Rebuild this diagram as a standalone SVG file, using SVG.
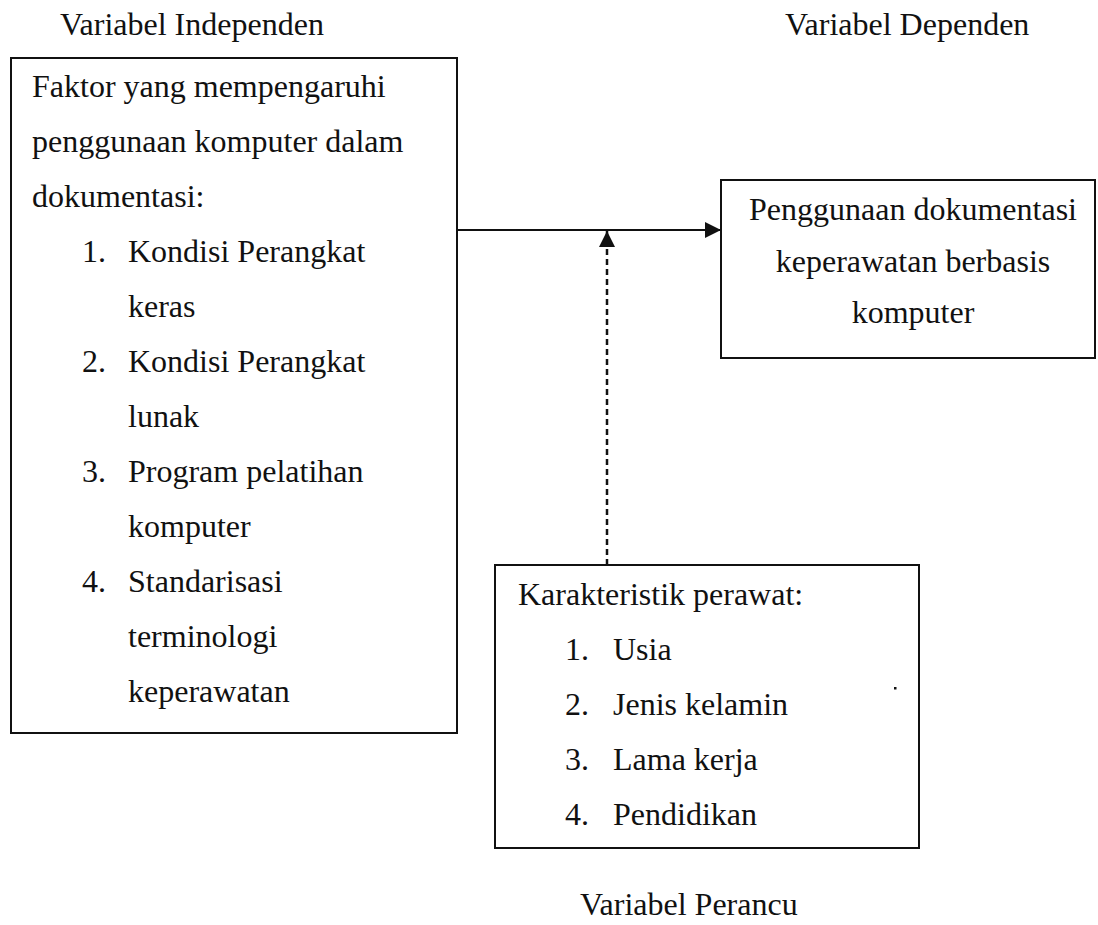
<svg xmlns="http://www.w3.org/2000/svg" width="1098" height="925" viewBox="0 0 1098 925">
  <style>
    .t { font-family: "Liberation Serif", "Times New Roman", serif; font-size: 32px; fill: #111; }
    .c { text-anchor: middle; }
    .box { fill: none; stroke: #111; stroke-width: 2; }
    .line { fill: none; stroke: #111; stroke-width: 2; }
    .dash { fill: none; stroke: #111; stroke-width: 2.5; stroke-dasharray: 6 4; }
  </style>
  <defs>
    <marker id="arrow" viewBox="0 0 16 16" refX="16" refY="8" markerWidth="16" markerHeight="16" markerUnits="userSpaceOnUse" orient="auto">
      <path d="M0,0 L16,8 L0,16 Z" fill="#111"/>
    </marker>
  </defs>
  <rect width="1098" height="925" fill="#ffffff"/>

  <g id="labels">
    <text class="t" x="60" y="35">Variabel Independen</text>
    <text class="t" x="785" y="35">Variabel Dependen</text>
    <text class="t" x="580" y="915">Variabel Perancu</text>
  </g>

  <g id="independen">
    <rect class="box" x="11" y="58" width="446" height="675"/>
    <text class="t" x="32" y="97">Faktor yang mempengaruhi</text>
    <text class="t" x="32" y="152">penggunaan komputer dalam</text>
    <text class="t" x="32" y="207">dokumentasi:</text>
    <text class="t" x="82" y="262">1.</text>
    <text class="t" x="128" y="262">Kondisi Perangkat</text>
    <text class="t" x="128" y="317">keras</text>
    <text class="t" x="82" y="372">2.</text>
    <text class="t" x="128" y="372">Kondisi Perangkat</text>
    <text class="t" x="128" y="427">lunak</text>
    <text class="t" x="82" y="482">3.</text>
    <text class="t" x="128" y="482">Program pelatihan</text>
    <text class="t" x="128" y="537">komputer</text>
    <text class="t" x="82" y="592">4.</text>
    <text class="t" x="128" y="592">Standarisasi</text>
    <text class="t" x="128" y="647">terminologi</text>
    <text class="t" x="128" y="702">keperawatan</text>
  </g>

  <g id="dependen">
    <rect class="box" x="721" y="180" width="374" height="178"/>
    <text class="t c" x="913" y="220">Penggunaan dokumentasi</text>
    <text class="t c" x="913" y="272">keperawatan berbasis</text>
    <text class="t c" x="913" y="323">komputer</text>
  </g>

  <g id="perancu">
    <rect class="box" x="495" y="565" width="424" height="283"/>
    <text class="t" x="518" y="605">Karakteristik perawat:</text>
    <text class="t" x="565" y="660">1.</text>
    <text class="t" x="613" y="660">Usia</text>
    <text class="t" x="565" y="715">2.</text>
    <text class="t" x="613" y="715">Jenis kelamin</text>
    <text class="t" x="565" y="770">3.</text>
    <text class="t" x="613" y="770">Lama kerja</text>
    <text class="t" x="565" y="825">4.</text>
    <text class="t" x="613" y="825">Pendidikan</text>
    <rect x="894" y="687" width="2.5" height="2.5" fill="#111"/>
  </g>

  <g id="connectors">
    <line class="line" x1="457" y1="230" x2="721" y2="230" marker-end="url(#arrow)"/>
    <line class="dash" x1="607" y1="565" x2="607" y2="231" marker-end="url(#arrow)"/>
  </g>
</svg>
